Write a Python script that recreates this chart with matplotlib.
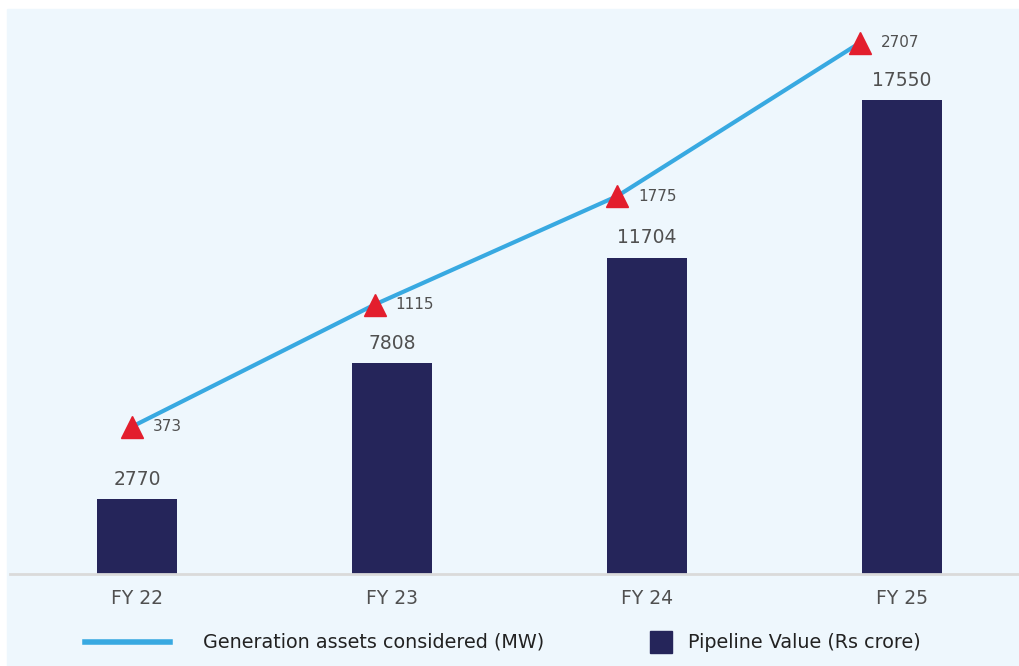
import matplotlib.pyplot as plt
from matplotlib.patches import Rectangle
from matplotlib.lines import Line2D

years = ["FY 22", "FY 23", "FY 24", "FY 25"]
pipeline_value = [2770, 7808, 11704, 17550]
generation_mw = [373, 1115, 1775, 2707]

navy = "#25255a"
blue = "#38a9e1"
red = "#e31e2d"
grey_text = "#505050"
panel = "#eef7fd"

plt.rcParams["font.family"] = ["DejaVu Sans"]

W, H = 1019, 666
fig = plt.figure(figsize=(W / 100, H / 100), dpi=100, facecolor="white")

# light panel behind everything
fig.add_artist(Rectangle((7 / W, 0), 1 - 7 / W, 1 - 9 / H,
                         transform=fig.transFigure, color=panel, zorder=0))

rect = [10 / W, (H - 574) / H, 1 - 10 / W, (574 - 20) / H]
ax = fig.add_axes(rect)
ax.set_facecolor("none")
x = list(range(len(years)))

ax.bar(x, pipeline_value, width=0.314, color=navy, zorder=2)
for xi, v in zip(x, pipeline_value):
    ax.annotate(str(v), (xi, v), xytext=(0, 7.5), textcoords="offset points",
                ha="center", va="bottom", fontsize=13.5, color=grey_text)

ax.set_xlim(-0.5, 3.46)
ax.set_ylim(0, 20511)
ax.set_yticks([])
ax.set_xticks(x)
ax.set_xticklabels(years, fontsize=13.5, color=grey_text)
ax.tick_params(axis="x", length=0, pad=11)
for s in ["top", "right", "left"]:
    ax.spines[s].set_visible(False)
ax.spines["bottom"].set_color("#dadada")
ax.spines["bottom"].set_linewidth(2)

# the line sits on its own, slightly narrower x scale
ax2 = fig.add_axes(rect)
ax2.set_facecolor("none")
ax2.plot(x, generation_mw, color=blue, lw=3, zorder=3)
ax2.plot(x, generation_mw, ls="none", marker="^", ms=16, color=red, zorder=4)
for xi, v in zip(x, generation_mw):
    ax2.annotate(str(v), (xi, v), xytext=(15, 0), textcoords="offset points",
                 ha="left", va="center", fontsize=11, color=grey_text)
ax2.set_xlim(-0.503, 3.655)
ax2.set_ylim(-523, 2845)
ax2.axis("off")

# legend drawn by hand
ly = (H - 642) / H
fig.add_artist(Line2D([85 / W, 170 / W], [ly, ly], transform=fig.transFigure,
                      color=blue, lw=4))
fig.text(203 / W, ly, "Generation assets considered (MW)", fontsize=13.8,
         color="#222222", va="center")
fig.add_artist(Rectangle((650 / W, (H - 653) / H), 22 / W, 22 / H,
                         transform=fig.transFigure, color=navy))
fig.text(688 / W, ly, "Pipeline Value (Rs crore)", fontsize=13.8,
         color="#222222", va="center")

fig.savefig("out.png", dpi=100, facecolor="white")
